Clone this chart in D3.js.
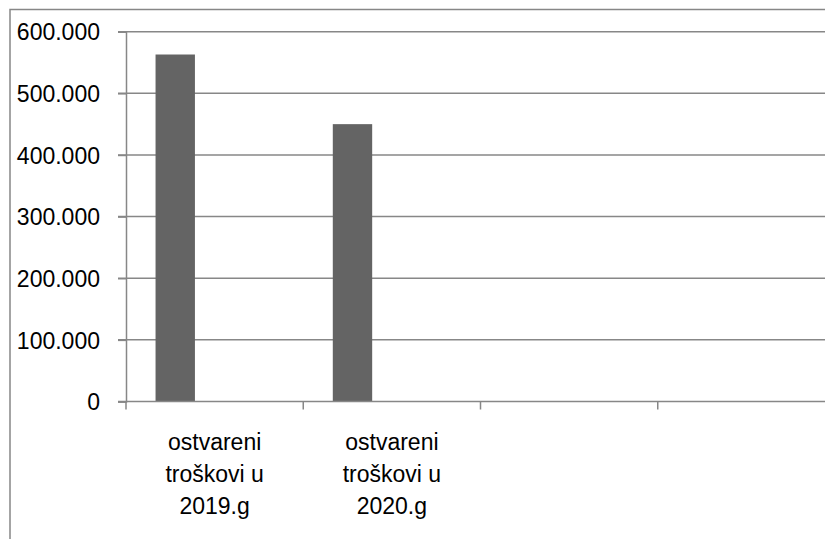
<!DOCTYPE html>
<html><head><meta charset="utf-8">
<script src="https://cdn.jsdelivr.net/npm/d3@7"></script>
<style>body{margin:0;background:#fff}svg{display:block}text{font-family:"Liberation Sans",Arial,sans-serif}</style>
</head><body>
<svg id="c" width="825" height="539"></svg>
<script>
const categories = ["ostvareni troškovi u 2019.g", "ostvareni troškovi u 2020.g", "", ""];
const seriesNames = ["s1", "s2", "s3"];
const series1 = [563, 450, null, null];
const series2 = [null, null, null, null];
const series3 = [null, null, null, null];
const yTicks = [0, 100, 200, 300, 400, 500, 600];
const yTickLabels = ["0", "100.000", "200.000", "300.000", "400.000", "500.000", "600.000"];
const labelLines = [["ostvareni", "troškovi u", "2019.g"], ["ostvareni", "troškovi u", "2020.g"], [], []];

const svg = d3.select("#c");
const m = {left: 126, top: 31.7, right: 835, bottom: 401.5};
const x = d3.scaleBand().domain(d3.range(categories.length)).range([m.left, m.right]).padding(0);
// Excel gap width 150%: bar width = band/(n+1.5)
const bw = x.bandwidth() / (seriesNames.length + 1.5);
const x1b = d3.scaleBand().domain(seriesNames).range([0.75 * bw, x.bandwidth() - 0.75 * bw]).padding(0);
const y = d3.scaleLinear().domain([0, 600]).range([m.bottom, m.top]);
const gray = "#878787";
const FS = 23;

// outer border
svg.append("rect").attr("x", 10).attr("y", 9.5).attr("width", 830).attr("height", 540)
  .attr("fill", "none").attr("stroke", gray).attr("stroke-width", 1.5);

// gridlines
svg.append("g").selectAll("line").data(yTicks.filter(d => d > 0)).join("line")
  .attr("x1", m.left - 8).attr("x2", 825).attr("y1", d => y(d)).attr("y2", d => y(d))
  .attr("stroke", gray).attr("stroke-width", 1.5);

// y axis
const ya = svg.append("g").attr("transform", `translate(${m.left},0)`)
  .call(d3.axisLeft(y).tickValues(yTicks).tickSize(8).tickFormat((d, i) => yTickLabels[i]));
ya.select(".domain").attr("stroke", gray).attr("stroke-width", 1.5);
ya.selectAll(".tick line").attr("stroke", gray).attr("stroke-width", 1.5);
ya.selectAll(".tick text").attr("x", -26).attr("dy", "0.36em").attr("font-size", FS).attr("fill", "#000")
  .style("font-family", '"Liberation Sans",Arial,sans-serif');

// bars
const allSeries = [series1, series2, series3];
const bars = [];
allSeries.forEach((s, si) => s.forEach((v, ci) => { if (v != null) bars.push({si, ci, v}); }));
svg.append("g").selectAll("rect").data(bars).join("rect")
  .attr("x", d => x(d.ci) + x1b(seriesNames[d.si]))
  .attr("width", x1b.bandwidth())
  .attr("y", d => y(d.v)).attr("height", d => y(0) - y(d.v))
  .attr("fill", "#646464");

// x axis
const xa = svg.append("g").attr("transform", `translate(0,${m.bottom})`);
xa.append("line").attr("x1", m.left - 8).attr("x2", 825).attr("y1", 0).attr("y2", 0)
  .attr("stroke", gray).attr("stroke-width", 1.5);
xa.selectAll("line.t").data(d3.range(categories.length)).join("line").attr("class", "t")
  .attr("x1", d => x(d)).attr("x2", d => x(d)).attr("y1", 0).attr("y2", 8)
  .attr("stroke", gray).attr("stroke-width", 1.5);
const lbl = xa.selectAll("text.l").data(d3.range(categories.length)).join("text").attr("class", "l")
  .attr("text-anchor", "middle").attr("font-size", FS).attr("fill", "#000")
  .attr("transform", d => `translate(${x(d) + x.bandwidth() / 2},0)`);
lbl.selectAll("tspan").data(d => labelLines[d]).join("tspan")
  .attr("x", 0).attr("y", (d, i) => 48 + i * 32).text(d => d);
</script>
</body></html>
